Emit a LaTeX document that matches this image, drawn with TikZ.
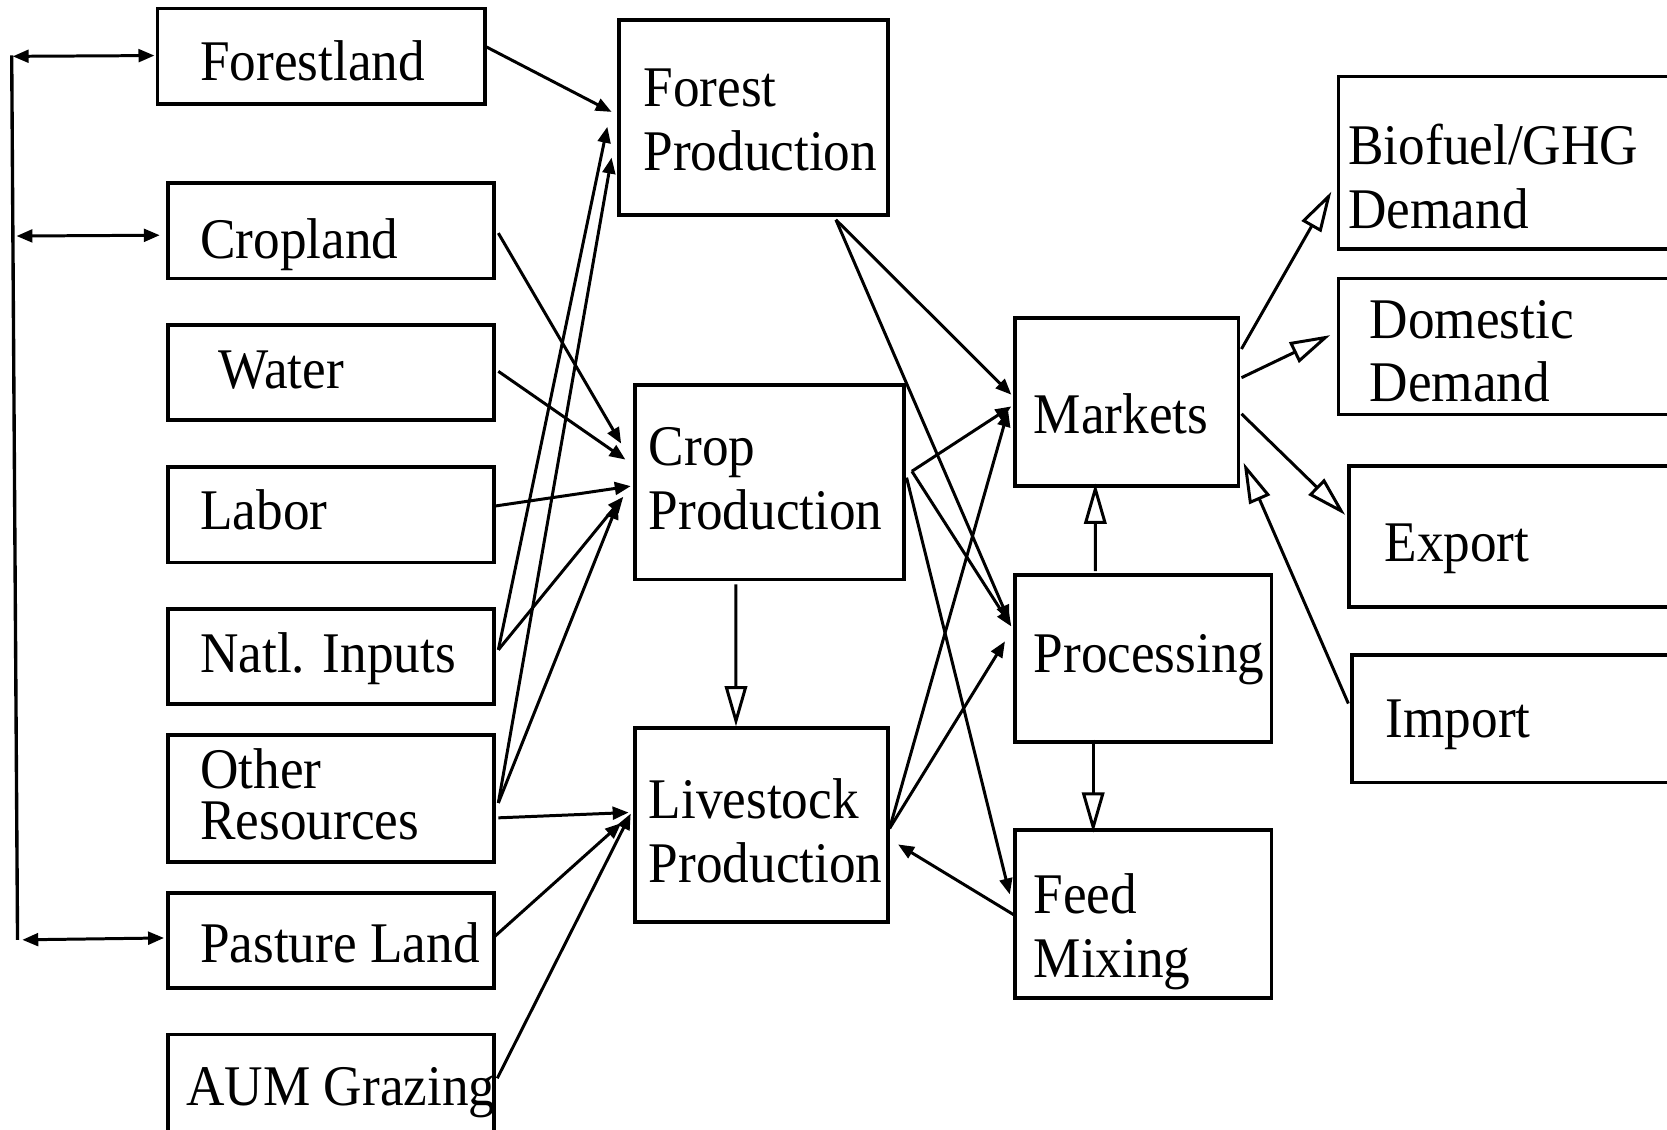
\documentclass[tikz,border=0pt]{standalone}
\usepackage{fontspec}
\setmainfont{Liberation Serif}
\usetikzlibrary{arrows.meta, positioning, calc}

\begin{document}
\begin{tikzpicture}[
	x=0.02cm, y=-0.02cm,
	box/.style={rectangle, draw, line width=2pt, inner sep=0pt},
	txt/.style={anchor=base west, inner sep=0pt, align=left, yscale=1.08, font=\fontsize{28.5}{31.6}\selectfont},
	flow/.style={-{Triangle[length=0.3cm, width=0.24cm]}, line width=1.6pt},
	hollow/.style={-{Triangle[open, length=0.76cm, width=0.42cm]}, line width=1.6pt},
	twoway/.style={{Triangle[length=0.3cm, width=0.24cm]}-{Triangle[length=0.3cm, width=0.24cm]}, line width=1.6pt}
	]
	\useasboundingbox (0,0) rectangle (1568,1062);
	\clip (0,0) rectangle (1568,1062);

	% resources
	\node[box, minimum width=6.16cm, minimum height=1.8cm] (forestland) at (302,53) {};
	\node[box, minimum width=6.14cm, minimum height=1.8cm] (cropland) at (311.5,217) {};
	\node[box, minimum width=6.14cm, minimum height=1.78cm] (water) at (311.5,350.5) {};
	\node[box, minimum width=6.14cm, minimum height=1.8cm] (labor) at (311.5,484) {};
	\node[box, minimum width=6.14cm, minimum height=1.78cm] (natl) at (311.5,617.5) {};
	\node[box, minimum width=6.14cm, minimum height=2.4cm] (other) at (311.5,751) {};
	\node[box, minimum width=6.14cm, minimum height=1.78cm] (pasture) at (311.5,884.5) {};
	\node[box, minimum width=6.14cm, minimum height=2.34cm] (aum) at (311.5,1031.5) {};
	\node[txt] (forestland-t) at (188,76) {Forestland};
	\node[txt] (cropland-t) at (188,243) {Cropland};
	\node[txt] (water-t) at (205,365) {Water};
	\node[txt] (labor-t) at (188,498) {Labor};
	\node[txt] (natl-t) at (188,633) {Natl. Inputs};
	\node[txt, font=\fontsize{28.5}{25.3}\selectfont] (other-t) at (188,790) {Other\\Resources};
	\node[txt] (pasture-t) at (188,905) {Pasture Land};
	\node[txt] (aum-t) at (175,1040) {AUM Grazing};

	% production and markets
	\node[box, minimum width=5.06cm, minimum height=3.66cm] (forestprod) at (708.5,110.5) {};
	\node[box, minimum width=5.06cm, minimum height=3.66cm] (cropprod) at (723.5,453.5) {};
	\node[box, minimum width=4.76cm, minimum height=3.64cm] (livestock) at (716,776) {};
	\node[box, minimum width=4.2cm, minimum height=3.16cm] (markets) at (1060,378) {};
	\node[box, minimum width=4.82cm, minimum height=3.14cm] (processing) at (1075.5,619.5) {};
	\node[box, minimum width=4.82cm, minimum height=3.16cm] (feed) at (1075.5,860) {};
	\node[txt] (forestprod-t) at (605,160) {Forest\\Production};
	\node[txt] (cropprod-t) at (610,498) {Crop\\Production};
	\node[txt] (livestock-t) at (610,830) {Livestock\\Production};
	\node[txt] (markets-t) at (972,408) {Markets};
	\node[txt] (processing-t) at (972,633) {Processing};
	\node[txt] (feed-t) at (972,919) {Feed\\Mixing};

	% demand side
	\node[box, minimum width=7.22cm, minimum height=3.24cm] (biofuel) at (1439.5,153) {};
	\node[box, minimum width=7.22cm, minimum height=2.56cm] (domestic) at (1439.5,326) {};
	\node[box, minimum width=7.02cm, minimum height=2.66cm] (export) at (1444.5,504.5) {};
	\node[box, minimum width=6.96cm, minimum height=2.4cm] (import) at (1446,676) {};
	\node[txt] (biofuel-t) at (1268,215) {Biofuel/GHG\\Demand};
	\node[txt] (domestic-t) at (1288,378) {Domestic\\Demand};
	\node[txt] (export-t) at (1302,528) {Export};
	\node[txt] (import-t) at (1303,694) {Import};

	% land bracket
	\coordinate (bracket-top) at (11,52);
	\coordinate (bracket-bot) at (16.5,884);
	\coordinate (b1) at (12,53);
	\coordinate (b2) at (15.5,222);
	\coordinate (b3) at (21,884);
	\draw[line width=1.8pt] (bracket-top) -- (bracket-bot);
	\draw[twoway] (b1) -- ($(forestland.north west)+(-1,46)$);
	\draw[twoway] (b2) -- ($(cropland.north west)+(-6,51)$);
	\draw[twoway] (b3) -- ($(pasture.north west)+(-2,44)$);

	% inputs
	\draw[flow] ($(forestland.north east)+(0,38)$) -- ($(forestprod.north west)+(-5,88)$);
	\draw[flow] ($(cropland.north east)+(2,49)$) -- ($(cropprod.north west)+(-11,57)$);
	\draw[flow] ($(water.north east)+(2,45)$) -- ($(cropprod.north west)+(-7,72)$);
	\draw[flow] ($(labor.north east)+(-3,39)$) -- ($(cropprod.north west)+(-2,97)$);
	\draw[flow] ($(natl.north east)+(2,40)$) -- ($(forestprod.north west)+(-9,102)$);
	\draw[flow] ($(natl.north east)+(2,40)$) -- ($(cropprod.north west)+(-9,107)$);
	\draw[flow] ($(other.north east)+(2,66)$) -- ($(forestprod.north west)+(-5,131)$);
	\draw[flow] ($(other.north east)+(2,66)$) -- ($(cropprod.north west)+(-14,113)$);
	\draw[flow] ($(other.north east)+(2,80)$) -- ($(livestock.north west)+(-4,81)$);
	\draw[flow] ($(pasture.north east)+(-3,44)$) -- ($(livestock.north west)+(-11,91)$);
	\draw[flow] ($(aum.north east)+(1,43)$) -- ($(livestock.north west)+(-2,82)$);
	\draw[hollow] ($(cropprod.south west)+(97,3)$) -- ($(livestock.north west)+(97,0)$);

	% to markets and processing
	\draw[flow] ($(forestprod.south west)+(206,3)$) -- ($(markets.north west)+(-2,74)$);
	\draw[flow] ($(forestprod.south west)+(206,3)$) -- ($(processing.north west)+(-4,45)$);
	\draw[flow] ($(cropprod.north east)+(6,83)$) -- ($(markets.north west)+(-2,85)$);
	\draw[flow] ($(cropprod.north east)+(6,83)$) -- ($(processing.north west)+(-2,50)$);
	\draw[flow] ($(cropprod.north east)+(1,89)$) -- ($(feed.north west)+(-3.5,62)$);
	\draw[flow] ($(livestock.north east)+(0,96)$) -- ($(markets.north west)+(-5,89)$);
	\draw[flow] ($(livestock.north east)+(0,96)$) -- ($(processing.north west)+(-8,64)$);
	\draw[flow] ($(feed.north west)+(0,81)$) -- ($(livestock.north east)+(8,111)$);
	\draw[hollow] ($(processing.north west)+(77,-2)$) -- ($(markets.south west)+(77,-4)$);
	\draw[hollow] ($(processing.south west)+(75,-4)$) -- ($(feed.north west)+(75,4)$);

	% demand and trade
	\draw[hollow] ($(markets.north east)+(1,31)$) -- ($(biofuel.north west)+(-5,110)$);
	\draw[hollow] ($(markets.north east)+(1,58)$) -- ($(domestic.north west)+(-6,55)$);
	\draw[hollow] ($(markets.north east)+(1,92)$) -- ($(export.north west)+(-2,48)$);
	\draw[hollow] ($(import.north west)+(-2,47.5)$) -- ($(markets.north east)+(3,138)$);
\end{tikzpicture}
\end{document}
